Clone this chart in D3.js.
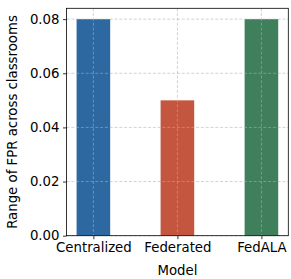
<!DOCTYPE html>
<html><head><meta charset="utf-8">
<script src="https://cdn.jsdelivr.net/npm/d3@7"></script>
<style>body{margin:0;background:#fff}svg{display:block;font-family:"DejaVu Sans",sans-serif}</style>
</head><body>
<script>
const categories = ["Centralized", "Federated", "FedALA"];
const values = [0.08, 0.05, 0.08];
const colors = ["#2e68a0", "#c4563f", "#407f5b"];
const yTicks = [0, 0.02, 0.04, 0.06, 0.08];
const xLabel = "Model";
const yLabel = "Range of FPR across classrooms";

const W = 291, H = 279;
const m = {left: 66.5, right: 2.7, top: 8.3, bottom: 43.3};
const svg = d3.select("body").append("svg").attr("width", W).attr("height", H);
const x = d3.scaleLinear().domain([-0.32, categories.length - 1 + 0.32]).range([m.left, W - m.right]);
const y = d3.scaleLinear().domain([0, 0.084]).range([H - m.bottom, m.top]);
const bw = x(0.4) - x(0);

svg.append("g").selectAll("rect").data(values).join("rect")
  .attr("x", (d, i) => x(i) - bw / 2).attr("width", bw)
  .attr("y", d => y(d)).attr("height", d => y(0) - y(d))
  .attr("fill", (d, i) => colors[i]);

const grid = svg.append("g").attr("stroke", "#b0b0b0").attr("stroke-opacity", 0.7)
  .attr("stroke-width", 0.8).attr("stroke-dasharray", "3,1.8");
grid.selectAll(".gy").data(yTicks).join("line")
  .attr("x1", m.left).attr("x2", W - m.right)
  .attr("y1", d => y(d)).attr("y2", d => y(d));
grid.selectAll(".gx").data(categories).join("line")
  .attr("y1", m.top).attr("y2", H - m.bottom)
  .attr("x1", (d, i) => x(i)).attr("x2", (d, i) => x(i));

svg.append("rect").attr("x", m.left).attr("y", m.top)
  .attr("width", W - m.right - m.left).attr("height", H - m.bottom - m.top)
  .attr("fill", "none").attr("stroke", "#000").attr("stroke-width", 0.8);

const yAxis = svg.append("g").attr("transform", `translate(${m.left},0)`)
  .call(d3.axisLeft(y).tickValues(yTicks).tickFormat(d3.format(".2f")).tickSize(3.5).tickPadding(3.5));
const xAxis = svg.append("g").attr("transform", `translate(0,${H - m.bottom})`)
  .call(d3.axisBottom(x).tickValues(d3.range(categories.length)).tickFormat(i => categories[i]).tickSize(3.5).tickPadding(3.5));
[xAxis, yAxis].forEach(g => {
  g.select(".domain").remove();
  g.selectAll("line").attr("stroke", "#000").attr("stroke-width", 0.8);
  g.selectAll("text").attr("font-size", 13.3).attr("fill", "#000").attr("font-family", "DejaVu Sans");
});

svg.append("text").attr("x", (m.left + W - m.right) / 2).attr("y", 275)
  .attr("text-anchor", "middle").attr("font-size", 13.3).text(xLabel);
svg.append("text").attr("transform", `translate(17,${(m.top + H - m.bottom) / 2}) rotate(-90)`)
  .attr("text-anchor", "middle").attr("font-size", 13.3).text(yLabel);
</script>
</body></html>
